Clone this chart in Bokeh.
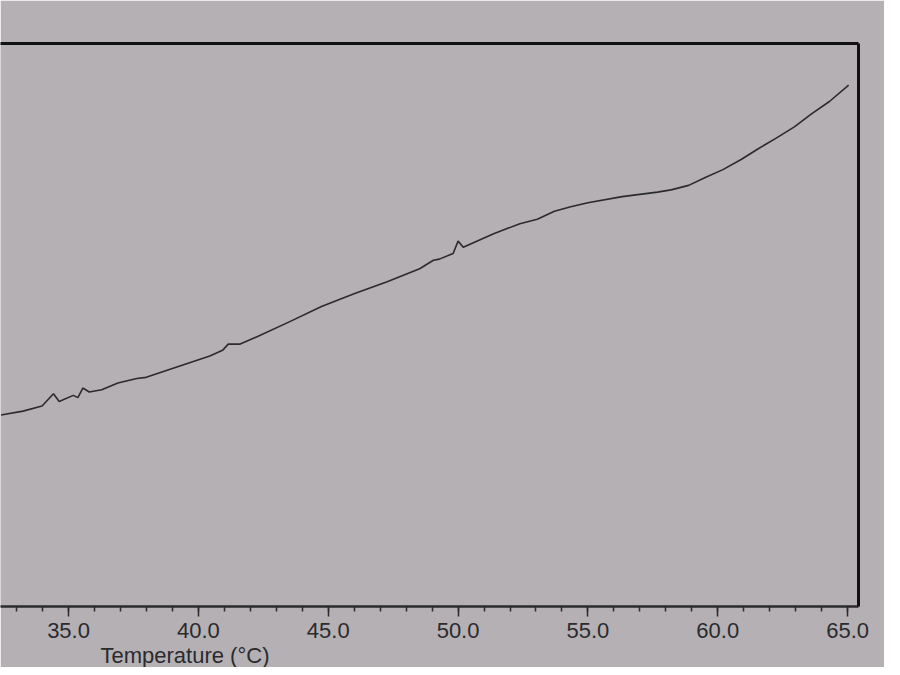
from bokeh.plotting import figure
from bokeh.models import (LinearAxis, SingleIntervalTicker, FixedTicker,
                          NumeralTickFormatter, Range1d, Title)
from bokeh.embed import file_html
from bokeh.resources import INLINE

# Temperature (°C) readings and signal (arbitrary units, 0-100 of plot height)
temperature = [32.40, 33.25, 33.98, 34.42, 34.64, 35.18, 35.36, 35.55, 35.80, 36.28,
               36.90, 37.63, 37.99, 39.20, 40.44, 40.93, 41.15, 41.59, 42.30, 43.52,
               44.74, 46.02, 47.27, 48.52, 49.05, 49.28, 49.81, 50.00, 50.20, 51.37,
               52.38, 53.05, 53.71, 54.34, 55.00, 56.32, 57.68, 58.20, 58.88, 59.52,
               60.20, 60.90, 61.56, 62.25, 62.95, 63.61, 64.30, 65.04]
signal = [34.0, 34.7, 35.6, 37.8, 36.4, 37.5, 37.1, 38.8, 38.1, 38.5,
          39.7, 40.5, 40.7, 42.6, 44.5, 45.5, 46.6, 46.6, 48.0, 50.6,
          53.3, 55.6, 57.7, 60.0, 61.5, 61.7, 62.7, 64.9, 63.8, 66.2,
          68.0, 68.8, 70.2, 71.0, 71.7, 72.8, 73.6, 74.0, 74.8, 76.2,
          77.6, 79.4, 81.3, 83.2, 85.2, 87.5, 89.7, 92.6]

x_start, x_end = 32.38, 65.42
y_start, y_end = 0, 100
x_label = "Temperature (°C)"

BG = "#b4b0b4"
INK = "#2b2a2d"
FONT = "Liberation Sans"

p = figure(width=884, height=667, output_backend="svg", toolbar_location=None,
           x_range=Range1d(x_start, x_end), y_range=Range1d(y_start, y_end),
           y_axis_location=None, min_border_left=0, min_border_right=26,
           min_border_top=43, min_border_bottom=0,
           background_fill_color=BG, border_fill_color=BG,
           outline_line_color=None)
p.grid.visible = False

p.line(temperature, signal, line_color=INK, line_width=1.6)

xa = p.xaxis[0]
xa.ticker = SingleIntervalTicker(interval=5, num_minor_ticks=5)
xa.formatter = NumeralTickFormatter(format="0.0")
xa.axis_line_color = INK
xa.axis_line_width = 2.5
xa.major_tick_line_color = INK
xa.major_tick_line_width = 1.5
xa.major_tick_out = 10
xa.major_tick_in = 0
xa.minor_tick_line_color = INK
xa.minor_tick_line_width = 1.5
xa.minor_tick_out = 5
xa.minor_tick_in = 0
xa.major_label_standoff = 6
xa.major_label_text_font = FONT
xa.major_label_text_font_size = "22px"
xa.major_label_text_color = INK

# frame borders on top and right (axis lines only, no ticks or labels)
for loc in ("above", "right"):
    ax = LinearAxis(ticker=FixedTicker(ticks=[]), axis_line_color="#111111",
                    axis_line_width=3, major_tick_line_color=None,
                    minor_tick_line_color=None, major_label_standoff=0,
                    major_tick_out=0, major_tick_in=0)
    p.add_layout(ax, loc)

p.add_layout(Title(text=x_label, align="left", offset=100, standoff=0,
                   text_font=FONT, text_font_size="22px",
                   text_font_style="normal", text_color=INK), "below")

open("out.html", "w").write(file_html(p, INLINE))
